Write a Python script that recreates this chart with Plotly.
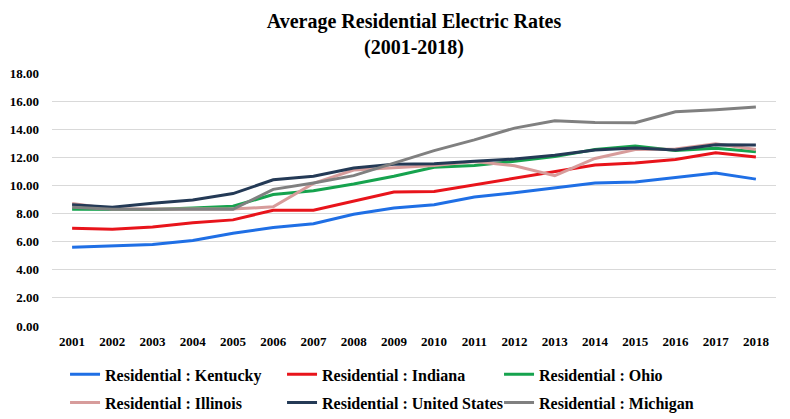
import plotly.graph_objects as go

years = [str(y) for y in range(2001, 2019)]

kentucky = [5.60, 5.68, 5.80, 6.08, 6.60, 7.00, 7.28, 7.95, 8.40, 8.62, 9.18, 9.48, 9.80, 10.17, 10.24, 10.55, 10.88, 10.45]
indiana = [6.95, 6.88, 7.05, 7.35, 7.55, 8.24, 8.24, 8.86, 9.53, 9.57, 10.05, 10.50, 11.02, 11.45, 11.60, 11.84, 12.32, 12.03]
ohio = [8.30, 8.28, 8.28, 8.40, 8.52, 9.36, 9.62, 10.10, 10.65, 11.30, 11.42, 11.72, 12.05, 12.55, 12.80, 12.48, 12.65, 12.40]
illinois = [8.72, 8.32, 8.32, 8.32, 8.32, 8.48, 10.15, 11.10, 11.26, 11.42, 11.70, 11.40, 10.70, 11.92, 12.55, 12.60, 12.96, 12.55]
united_states = [8.62, 8.45, 8.74, 8.96, 9.42, 10.40, 10.66, 11.24, 11.51, 11.54, 11.72, 11.88, 12.15, 12.52, 12.66, 12.52, 12.89, 12.87]
michigan = [8.45, 8.30, 8.30, 8.30, 8.30, 9.72, 10.18, 10.70, 11.58, 12.48, 13.24, 14.08, 14.60, 14.48, 14.46, 15.24, 15.38, 15.58]

series = [
    ("Residential : Kentucky", kentucky, "#1F6FE5", "legend"),
    ("Residential : Indiana", indiana, "#E8141B", "legend"),
    ("Residential : Ohio", ohio, "#16A34E", "legend"),
    ("Residential : Illinois", illinois, "#D79C9B", "legend2"),
    ("Residential : United States", united_states, "#243A56", "legend2"),
    ("Residential : Michigan", michigan, "#808080", "legend2"),
]

y_ticks = [0, 2, 4, 6, 8, 10, 12, 14, 16, 18]
y_tick_labels = [f"{v:.2f}" for v in y_ticks]

fig = go.Figure()
for name, vals, col, lg in series:
    fig.add_trace(go.Scatter(x=years, y=vals, mode="lines", name=name,
                             line=dict(color=col, width=3), legend=lg))

serif = "Liberation Serif"

leg_common = dict(orientation="h", xanchor="left", yanchor="middle",
                  entrywidth=172, entrywidthmode="pixels",
                  font=dict(family=serif, size=16, color="#000000", weight="bold"),
                  itemwidth=30, bgcolor="rgba(0,0,0,0)", borderwidth=0)

fig.update_layout(
    width=790, height=419,
    margin=dict(l=52, r=14, t=73, b=93, autoexpand=False),
    paper_bgcolor="white", plot_bgcolor="white",
    title=dict(text="Average Residential Electric Rates<br>(2001-2018)",
               x=0.5, xanchor="center", xref="paper",
               y=1 - 28 / 419, yanchor="middle", yref="container",
               font=dict(family=serif, size=20, color="#000000", weight="bold")),
    showlegend=True,
    legend=dict(x=0.018, y=-(374 - 325.7) / 252.3, **leg_common),
    legend2=dict(x=0.018, y=-(402 - 325.7) / 252.3, **leg_common),
    xaxis=dict(type="category", range=[-0.5, 17.5], showgrid=False, showline=False, ticks="",
               tickfont=dict(family=serif, size=13, color="#000000", weight="bold"),
               ticklabelstandoff=6),
    yaxis=dict(range=[0, 18], tickvals=y_ticks, ticktext=y_tick_labels,
               showgrid=True, gridcolor="#D9D9D9", gridwidth=1,
               zeroline=False, showline=False, ticks="",
               tickfont=dict(family=serif, size=13, color="#000000", weight="bold"),
               ticklabelstandoff=12),
)

fig.write_html("out.html")
